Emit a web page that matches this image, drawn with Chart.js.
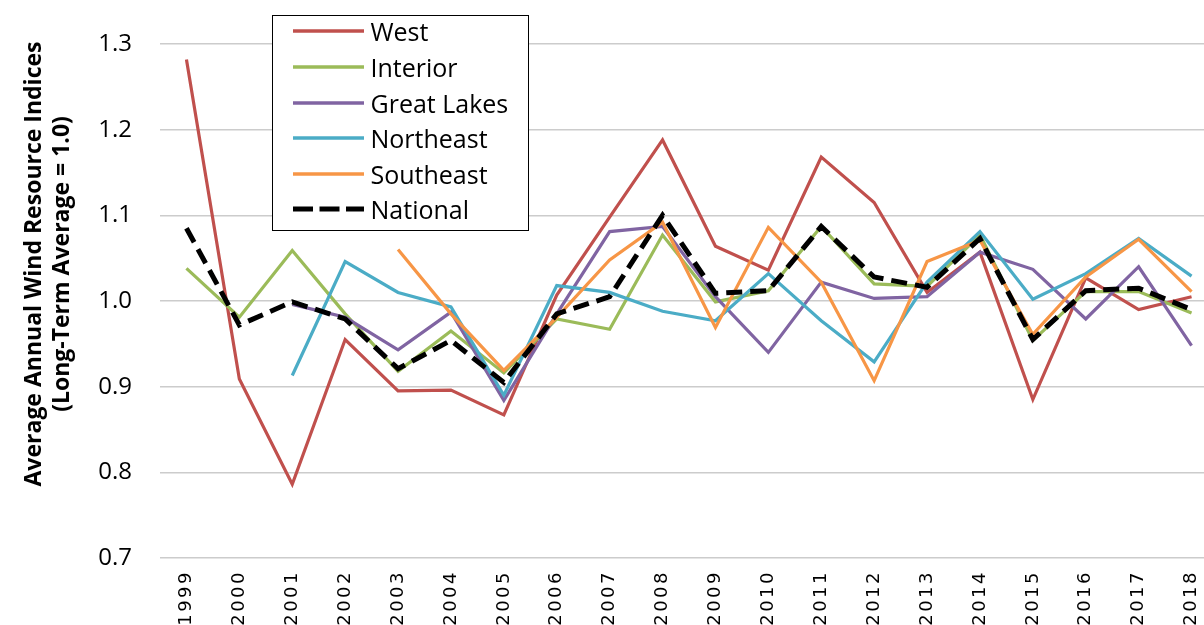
<!DOCTYPE html>
<html>
<head>
<meta charset="utf-8">
<script src="https://cdn.jsdelivr.net/npm/chart.js@4/dist/chart.umd.min.js"></script>
<style>
html,body{margin:0;padding:0;overflow:hidden;background:#fff;width:1204px;height:625px;}
#c{position:absolute;left:0;top:0;}
#ytitle{position:absolute;width:540px;height:56px;left:-224px;top:236px;transform:rotate(-90deg);
  font-family:'Open Sans',sans-serif;font-weight:bold;font-size:23px;line-height:28px;text-align:center;color:#000;white-space:nowrap;}
#legend{position:absolute;left:272px;top:15px;width:257px;height:216px;box-sizing:border-box;border:1.5px solid #000;background:#fff;
  font-family:'Open Sans',sans-serif;font-size:25px;color:#000;}
.row{position:absolute;left:19.5px;height:36px;display:flex;align-items:center;white-space:nowrap;}
.row svg{display:block;margin-right:7px;}
</style>
</head>
<body>
<canvas id="c" width="1230" height="625"></canvas>
<div id="ytitle">Average Annual Wind Resource Indices<br>(Long-Term Average = 1.0)</div>
<div id="legend"></div>
<script>
// ---- data ----
const years = ['1999','2000','2001','2002','2003','2004','2005','2006','2007','2008','2009','2010','2011','2012','2013','2014','2015','2016','2017','2018'];
const seriesNames = ['West','Interior','Great Lakes','Northeast','Southeast','National'];
const west       = [1.282,0.909,0.786,0.955,0.895,0.896,0.867,1.007,1.098,1.188,1.064,1.036,1.168,1.115,1.010,1.057,0.885,1.027,0.990,1.005];
const interior   = [1.038,0.981,1.059,0.985,0.918,0.965,0.916,0.979,0.967,1.077,0.999,1.012,1.087,1.020,1.017,1.077,0.954,1.011,1.011,0.986];
const greatLakes = [null,null,0.996,0.981,0.943,0.987,0.884,0.985,1.081,1.087,1.005,0.940,1.022,1.003,1.005,1.057,1.037,0.979,1.040,0.948];
const northeast  = [null,null,0.913,1.046,1.010,0.993,0.890,1.018,1.010,0.988,0.977,1.032,0.977,0.929,1.022,1.081,1.002,1.032,1.073,1.029];
const southeast  = [null,null,null,null,1.060,0.985,0.919,0.981,1.048,1.092,0.969,1.086,1.022,0.907,1.046,1.071,0.961,1.028,1.072,1.011];
const national   = [1.085,0.972,0.999,0.979,0.921,0.954,0.905,0.985,1.005,1.100,1.009,1.012,1.087,1.028,1.016,1.073,0.955,1.012,1.015,0.990];
const yTickMin = 0.7, yTickMax = 1.3, yTickStep = 0.1;

// ---- styles ----
const seriesValues = [west, interior, greatLakes, northeast, southeast, national];
const colors = ['#C0504D','#9BBB59','#8064A2','#4BACC6','#F79646','#000000'];

const datasets = seriesValues.map((vals, i) => {
  const isNat = i === seriesNames.length - 1;
  return {
    label: seriesNames[i],
    data: vals,
    borderColor: colors[i],
    backgroundColor: colors[i],
    borderWidth: isNat ? 5 : 3.2,
    borderDash: isNat ? [16, 8] : [],
    borderCapStyle: 'butt',
    borderJoinStyle: 'miter',
    pointRadius: 0,
    pointHoverRadius: 0,
    tension: 0,
    fill: false,
    spanGaps: false,
    order: seriesNames.length - i
  };
});

const xSpacing = {
  id: 'xspacing',
  beforeDraw(chart) {
    const s = chart.scales.x;
    if (!s.__patched) {
      const orig = s.drawLabels;
      s.drawLabels = function (area) {
        const c = this.ctx;
        c.save();
        c.letterSpacing = '2.5px';
        orig.call(this, area);
        c.restore();
      };
      s.__patched = true;
    }
  }
};

new Chart(document.getElementById('c'), {
  type: 'line',
  data: { labels: years, datasets },
  plugins: [xSpacing],
  options: {
    responsive: false,
    animation: false,
    devicePixelRatio: 1,
    layout: { padding: { left: 0, right: 12, top: 44, bottom: 0 } },
    plugins: { legend: { display: false }, tooltip: { enabled: false } },
    scales: {
      x: {
        offset: true,
        grid: { display: false, drawTicks: false },
        border: { display: false },
        ticks: {
          autoSkip: false, minRotation: 90, maxRotation: 90, padding: 12,
          color: '#000', font: { family: 'DejaVu Sans', size: 18 }
        },
        afterFit(s) { s.height = 67; }
      },
      y: {
        min: yTickMin, max: yTickMax,
        grid: { color: '#cccccc', lineWidth: 1.5, drawTicks: false },
        border: { display: false },
        ticks: {
          stepSize: yTickStep, padding: 28, color: '#000',
          font: { family: 'Open Sans', size: 24 },
          callback: v => Number(v).toFixed(1)
        },
        afterFit(s) { s.width = 160; }
      }
    }
  }
});

// ---- HTML legend built from the same series ----
const leg = document.getElementById('legend');
datasets.forEach((d, i) => {
  const row = document.createElement('div');
  row.className = 'row';
  row.style.top = (16.8 + 35.6 * i - 18 - 1.5) + 'px';
  const svgNS = 'http://www.w3.org/2000/svg';
  const svg = document.createElementNS(svgNS, 'svg');
  svg.setAttribute('width', '71'); svg.setAttribute('height', '10');
  const ln = document.createElementNS(svgNS, 'line');
  ln.setAttribute('x1', '0'); ln.setAttribute('x2', '71');
  ln.setAttribute('y1', '5'); ln.setAttribute('y2', '5');
  ln.setAttribute('stroke', d.borderColor);
  ln.setAttribute('stroke-width', d.borderDash.length ? 5 : 3.5);
  if (d.borderDash.length) ln.setAttribute('stroke-dasharray', '20 6.5');
  svg.appendChild(ln);
  const span = document.createElement('span');
  span.textContent = d.label;
  row.appendChild(svg); row.appendChild(span);
  leg.appendChild(row);
});
</script>
</body>
</html>
